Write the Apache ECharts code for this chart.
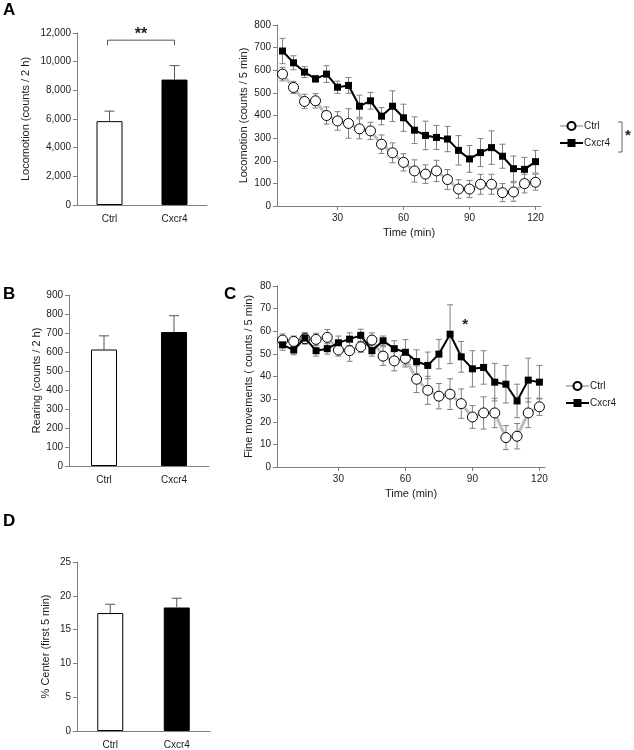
<!DOCTYPE html>
<html><head><meta charset="utf-8">
<script src="https://cdn.jsdelivr.net/npm/echarts@6/dist/echarts.min.js"></script>
<style>html,body{margin:0;padding:0;background:#fff}#c{width:634px;height:750px}</style>
</head><body><div id="c"></div>
<script>
const groups = ['Ctrl', 'Cxcr4'];
const timeCats = ['5','10','15','20','25','30','35','40','45','50','55','60','65','70','75','80','85','90','95','100','105','110','115','120'];
const timeTickLabels = ['30','60','90','120'];

const locoTotal = [5850, 8750];
const locoTotalErr = [700, 975];
const rearing = [613, 705];
const rearingErr = [72, 86];
const centerPct = [17.45, 18.27];
const centerPctErr = [1.3, 1.37];

const locoCtrl = [583,524,462,465,400,376,365,341,332,273,235,193,155,141,155,117,75,75,96,96,59,62,99,105];
const locoCtrlErr = [30,27,32,32,38,41,65,44,38,41,44,38,49,41,47,44,41,38,44,44,40,41,41,35];
const locoCx = [685,633,592,562,583,525,533,441,465,397,441,390,335,312,303,296,246,208,236,258,220,165,162,196];
const locoCxErr = [56,31,24,15,37,27,35,49,37,38,68,60,59,63,53,56,65,59,62,74,53,56,53,50];

const fineCtrl = [56.1,55.5,56.7,56.4,57.3,51.7,51.4,53.1,56.1,49.0,46.9,48.0,38.8,33.9,31.3,32.2,28.0,22.1,23.9,23.9,13.0,13.6,23.9,26.6];
const fineCtrlErr = [2.7,2.4,2.4,2.7,3.5,2.7,4.7,2.4,3.2,4.1,4.4,3.8,5.9,6.2,5.6,6.8,6.5,5.0,7.1,6.5,5.3,5.6,6.5,3.8];
const fineCx = [54.0,51.7,57.0,51.4,52.3,54.9,56.5,58.2,51.4,55.8,52.3,50.7,46.6,44.9,49.9,58.7,48.7,43.4,44.0,37.5,36.6,29.2,38.4,37.5];
const fineCxErr = [2.4,2.1,2.4,2.4,2.4,3.0,2.8,2.7,2.4,2.1,3.5,5.6,5.2,5.9,6.5,13.0,6.8,8.0,7.4,8.3,8.3,7.4,9.7,7.4];

const FONT = 'Liberation Sans, Arial, sans-serif';
const AX = '#808080';
const TXT = '#1a1a1a';

const chart = echarts.init(document.getElementById('c'), null, {renderer: 'canvas'});

function yAx(gi, max, interval, name, gap, fmt) {
  return {
    type: 'value', gridIndex: gi, min: 0, max: max, interval: interval,
    name: name, nameLocation: 'middle', nameGap: gap,
    nameTextStyle: {fontFamily: FONT, fontSize: 11, color: TXT},
    axisLine: {show: true, lineStyle: {color: AX, width: 1}},
    axisTick: {show: true, length: 4, lineStyle: {color: AX}},
    splitLine: {show: false},
    axisLabel: {fontFamily: FONT, fontSize: 10, color: TXT, margin: 6, formatter: fmt || null}
  };
}
function xBar(gi) {
  return {
    type: 'category', gridIndex: gi, data: groups,
    axisLine: {lineStyle: {color: AX, width: 1}},
    axisTick: {show: false},
    axisLabel: {fontFamily: FONT, fontSize: 10, color: TXT, margin: 9}
  };
}
const showLab = (i, v) => timeTickLabels.indexOf(v) >= 0;
function xTime(gi) {
  return {
    type: 'category', gridIndex: gi, data: timeCats, boundaryGap: true,
    name: 'Time (min)', nameLocation: 'middle', nameGap: 21,
    nameTextStyle: {fontFamily: FONT, fontSize: 11, color: TXT},
    axisLine: {lineStyle: {color: AX, width: 1}},
    axisTick: {show: true, alignWithLabel: true, interval: showLab, length: 4, lineStyle: {color: AX}},
    axisLabel: {fontFamily: FONT, fontSize: 10, color: TXT, margin: 7, interval: showLab}
  };
}

function barSeries(xi, vals) {
  return {
    type: 'bar', xAxisIndex: xi, yAxisIndex: xi, barWidth: 26,
    data: vals.map((v, i) => ({value: v, itemStyle: {color: i === 0 ? '#ffffff' : '#000000', borderColor: '#000', borderWidth: 1}})),
    silent: true, z: 2
  };
}
function barErr(xi, vals, errs) {
  return {
    type: 'custom', xAxisIndex: xi, yAxisIndex: xi, z: 3, silent: true,
    data: vals.map((v, i) => [i, v, errs[i]]),
    renderItem: function (params, api) {
      const p0 = api.coord([api.value(0), api.value(1)]);
      const p1 = api.coord([api.value(0), api.value(1) + api.value(2)]);
      const st = {stroke: '#555', lineWidth: 1};
      return {type: 'group', children: [
        {type: 'line', shape: {x1: p0[0], y1: p0[1], x2: p1[0], y2: p1[1]}, style: st},
        {type: 'line', shape: {x1: p1[0] - 5, y1: p1[1], x2: p1[0] + 5, y2: p1[1]}, style: st}
      ]};
    }
  };
}
function lineErr(xi, vals, errs) {
  return {
    type: 'custom', xAxisIndex: xi, yAxisIndex: xi, z: 1, silent: true,
    data: vals.map((v, i) => [i, v, errs[i]]),
    renderItem: function (params, api) {
      const lo = api.coord([api.value(0), api.value(1) - api.value(2)]);
      const hi = api.coord([api.value(0), api.value(1) + api.value(2)]);
      const st = {stroke: '#808080', lineWidth: 1};
      return {type: 'group', children: [
        {type: 'line', shape: {x1: lo[0], y1: lo[1], x2: hi[0], y2: hi[1]}, style: st},
        {type: 'line', shape: {x1: hi[0] - 3, y1: hi[1], x2: hi[0] + 3, y2: hi[1]}, style: st},
        {type: 'line', shape: {x1: lo[0] - 3, y1: lo[1], x2: lo[0] + 3, y2: lo[1]}, style: st}
      ]};
    }
  };
}
function ctrlLine(xi, vals) {
  return {
    name: 'Ctrl', type: 'line', xAxisIndex: xi, yAxisIndex: xi, data: vals, z: 3,
    symbol: 'circle', symbolSize: 10, showAllSymbol: true,
    lineStyle: {color: '#bdbdbd', width: 3},
    itemStyle: {color: '#ffffff', borderColor: '#000', borderWidth: 1},
    animation: false
  };
}
function cxLine(xi, vals, extra) {
  return Object.assign({
    name: 'Cxcr4', type: 'line', xAxisIndex: xi, yAxisIndex: xi, data: vals, z: 4,
    symbol: 'rect', symbolSize: 7, showAllSymbol: true,
    lineStyle: {color: '#000', width: 2},
    itemStyle: {color: '#000'},
    animation: false
  }, extra || {});
}

const legendCommon = {
  orient: 'vertical', itemWidth: 23, itemHeight: 10, itemGap: 7, selectedMode: false,
  textStyle: {fontFamily: FONT, fontSize: 10, color: TXT, padding: [0, 0, 0, -4]}
};

const option = {
  animation: false,
  backgroundColor: '#fff',
  grid: [
    {left: 77, top: 33, width: 130, height: 172},
    {left: 277, top: 25, width: 264, height: 181},
    {left: 69, top: 295, width: 140, height: 171},
    {left: 277, top: 286, width: 268, height: 181},
    {left: 77, top: 562, width: 133, height: 171}
  ],
  xAxis: [xBar(0), xTime(1), xBar(2), xTime(3), xBar(4)],
  yAxis: [
    yAx(0, 12000, 2000, 'Locomotion (counts / 2 h)', 46, v => v.toLocaleString('en-US')),
    yAx(1, 800, 100, 'Locomotion (counts / 5 min)', 28),
    yAx(2, 900, 100, 'Rearing (counts / 2 h)', 26),
    yAx(3, 80, 10, 'Fine movements ( counts / 5 min)', 23),
    yAx(4, 25, 5, '% Center (first 5 min)', 26)
  ],
  legend: [
    Object.assign({left: 554, top: 116, data: ['Ctrl', 'Cxcr4']}, legendCommon),
    Object.assign({left: 560, top: 376, data: ['Ctrl', 'Cxcr4']}, legendCommon)
  ],
  series: [
    barSeries(0, locoTotal), barErr(0, locoTotal, locoTotalErr),
    {
      type: 'custom', xAxisIndex: 0, yAxisIndex: 0, z: 5, silent: true,
      data: [[0, 1, 11500]],
      renderItem: function (params, api) {
        const a = api.coord([api.value(0), api.value(2)]);
        const b = api.coord([api.value(1), api.value(2)]);
        return {type: 'group', children: [
          {type: 'polyline', shape: {points: [[a[0] - 2, a[1] + 5], [a[0] - 2, a[1]], [b[0], b[1]], [b[0], b[1] + 5]]}, style: {stroke: '#555', lineWidth: 1, fill: null}},
          {type: 'text', style: {text: '**', x: (a[0] + b[0]) / 2 - 1, y: a[1] + 2, align: 'center', verticalAlign: 'bottom', font: 'bold 16px ' + FONT, fill: '#222'}}
        ]};
      }
    },
    lineErr(1, locoCtrl, locoCtrlErr), lineErr(1, locoCx, locoCxErr),
    ctrlLine(1, locoCtrl), cxLine(1, locoCx),
    barSeries(2, rearing), barErr(2, rearing, rearingErr),
    lineErr(3, fineCtrl, fineCtrlErr), lineErr(3, fineCx, fineCxErr),
    ctrlLine(3, fineCtrl),
    cxLine(3, fineCx, {
      markPoint: {
        symbol: 'circle', symbolSize: 0, silent: true,
        data: [{coord: [16, 64.5]}],
        label: {show: true, formatter: '*', fontFamily: FONT, fontSize: 15, fontWeight: 'bold', color: '#222', offset: [4, 4]}
      }
    }),
    barSeries(4, centerPct), barErr(4, centerPct, centerPctErr)
  ],
  graphic: [
    {type: 'text', left: 3, top: 2, style: {text: 'A', font: 'bold 17px ' + FONT, fill: '#000'}},
    {type: 'text', left: 3, top: 286, style: {text: 'B', font: 'bold 17px ' + FONT, fill: '#000'}},
    {type: 'text', left: 224, top: 286, style: {text: 'C', font: 'bold 17px ' + FONT, fill: '#000'}},
    {type: 'text', left: 3, top: 513, style: {text: 'D', font: 'bold 17px ' + FONT, fill: '#000'}},
    {type: 'polyline', shape: {points: [[618, 122], [622, 122], [622, 152], [618, 152]]}, style: {stroke: '#666', lineWidth: 1, fill: null}},
    {type: 'text', left: 625, top: 128, style: {text: '*', font: 'bold 15px ' + FONT, fill: '#222'}}
  ]
};
chart.setOption(option);
</script>
</body></html>
